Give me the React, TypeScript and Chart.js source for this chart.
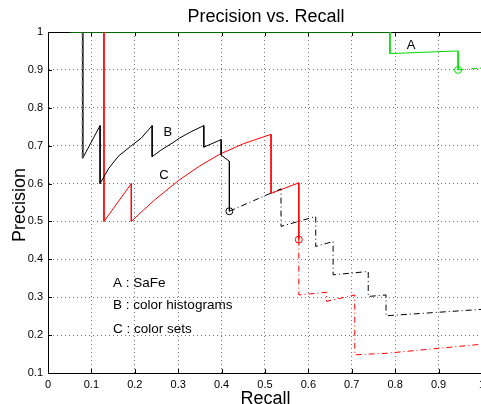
import React, { useEffect, useRef } from "react";
import { Chart, registerables } from "chart.js";

Chart.register(...registerables);

// ---- tick values ----
const xTickValues = [0, 0.1, 0.2, 0.3, 0.4, 0.5, 0.6, 0.7, 0.8, 0.9, 1];
const yTickValues = [0.1, 0.2, 0.3, 0.4, 0.5, 0.6, 0.7, 0.8, 0.9, 1];

// ---- A : SaFe (green) ----
const aSolidRecall = [0.052, 0.788, 0.788, 0.945, 0.945];
const aSolidPrecision = [1, 1, 0.943, 0.95, 0.9];
const aDashRecall = [0.945, 1];
const aDashPrecision = [0.9, 0.905];

// ---- B : color histograms (black) ----
const bSolidRecall = [0.08, 0.08, 0.12, 0.12, 0.14, 0.162, 0.19, 0.215, 0.24, 0.24, 0.26, 0.288, 0.303, 0.33, 0.359, 0.359, 0.399, 0.399, 0.418, 0.418];
const bSolidPrecision = [1, 0.667, 0.753, 0.6, 0.64, 0.672, 0.698, 0.72, 0.753, 0.671, 0.688, 0.708, 0.72, 0.737, 0.753, 0.696, 0.716, 0.675, 0.659, 0.527];
const bDashRecall = [0.418, 0.514, 0.537, 0.537, 0.617, 0.617, 0.657, 0.657, 0.738, 0.738, 0.779, 0.779, 1];
const bDashPrecision = [0.527, 0.575, 0.586, 0.487, 0.513, 0.434, 0.447, 0.359, 0.368, 0.302, 0.306, 0.251, 0.268];
const bStartRecall = [0.08, 0.08];
const bStartPrecision = [1, 0.667];

// ---- C : color sets (red) ----
const cSolidRecall = [0.129, 0.129, 0.192, 0.192, 0.22, 0.246, 0.303, 0.349, 0.395, 0.45, 0.514, 0.514, 0.578, 0.578];
const cSolidPrecision = [1, 0.5, 0.6, 0.5, 0.53, 0.557, 0.61, 0.646, 0.677, 0.705, 0.73, 0.574, 0.602, 0.452];
const cDashRecall = [0.578, 0.578, 0.642, 0.642, 0.707, 0.707, 0.779, 1];
const cDashPrecision = [0.452, 0.306, 0.313, 0.289, 0.306, 0.148, 0.152, 0.176];

// ---- markers (end of solid part) ----
const markerRecall = [0.945, 0.418, 0.578];
const markerPrecision = [0.9, 0.527, 0.452];
const markerColors = ["#00dd00", "#000000", "#ff0000"];

// ---- text labels in data coordinates ----
const curveLabels = ["A", "B", "C"];
const curveLabelRecall = [0.837, 0.276, 0.267];
const curveLabelPrecision = [0.964, 0.734, 0.621];
const legendTexts = ["A : SaFe", "B : color histograms", "C : color sets"];
const legendRecall = [0.15, 0.15, 0.15];
const legendPrecision = [0.338, 0.28, 0.216];

const titleText = "Precision vs. Recall";
const xTitle = "Recall";
const yTitle = "Precision";

const FONT = '"Liberation Sans", Arial, Helvetica, sans-serif';
const DASHDOT = [6, 3, 1, 3];

const zip = (xs: number[], ys: number[]) => xs.map((x, i) => ({ x, y: ys[i] }));
const fmt = (v: number) => String(Number(v.toFixed(1)));

function lineDs(xs: number[], ys: number[], color: string, dash: number[] = [], width = 1) {
  return {
    data: zip(xs, ys),
    borderColor: color,
    backgroundColor: color,
    borderWidth: width,
    borderDash: dash,
    showLine: true,
    pointRadius: 0,
    fill: false,
    tension: 0,
  };
}

const overlay = {
  id: "overlay",
  beforeDatasetsDraw(chart: any) {
    const { ctx, chartArea, scales } = chart;
    const { left, right, top, bottom } = chartArea;
    ctx.save();
    ctx.strokeStyle = "#000";
    ctx.lineWidth = 1;
    ctx.setLineDash([]);
    ctx.beginPath();
    const t = Math.round(top) + 0.5;
    ctx.moveTo(left, t);
    ctx.lineTo(right, t);
    // inward ticks
    xTickValues.forEach((v) => {
      const px = Math.round(scales.x.getPixelForValue(v)) + 0.5;
      ctx.moveTo(px, bottom);
      ctx.lineTo(px, bottom - 4);
      ctx.moveTo(px, top);
      ctx.lineTo(px, top + 4);
    });
    yTickValues.forEach((v) => {
      const py = Math.round(scales.y.getPixelForValue(v)) + 0.5;
      ctx.moveTo(left, py);
      ctx.lineTo(left + 4, py);
    });
    ctx.stroke();
    ctx.restore();
  },
  afterDraw(chart: any) {
    const { ctx, scales } = chart;
    ctx.save();
    ctx.fillStyle = "#000";
    // title
    ctx.font = `18px ${FONT}`;
    ctx.textAlign = "center";
    ctx.textBaseline = "alphabetic";
    ctx.fillText(titleText, 266, 21.5);
    // x title
    ctx.fillText(xTitle, 265.5, 404);
    // y title
    ctx.save();
    ctx.translate(25, 205);
    ctx.rotate(-Math.PI / 2);
    ctx.fillText(yTitle, 0, 0);
    ctx.restore();
    // curve labels
    ctx.font = `13px ${FONT}`;
    ctx.textBaseline = "middle";
    ctx.textAlign = "center";
    curveLabels.forEach((s, i) => {
      ctx.fillText(s, scales.x.getPixelForValue(curveLabelRecall[i]), scales.y.getPixelForValue(curveLabelPrecision[i]));
    });
    // legend texts
    ctx.font = `13.5px ${FONT}`;
    ctx.textAlign = "left";
    legendTexts.forEach((s, i) => {
      ctx.fillText(s, scales.x.getPixelForValue(legendRecall[i]), scales.y.getPixelForValue(legendPrecision[i]));
    });
    ctx.restore();
  },
};

export default function App() {
  const ref = useRef<HTMLCanvasElement | null>(null);

  useEffect(() => {
    document.body.style.margin = "0";
    const canvas = ref.current;
    if (!canvas) return;
    Chart.defaults.font.family = FONT;
    const datasets: any[] = [
      lineDs(bStartRecall, bStartPrecision, "#555555", [6, 2], 2),
      lineDs(bSolidRecall, bSolidPrecision, "#000000"),
      lineDs(bDashRecall, bDashPrecision, "#000000", DASHDOT),
      lineDs(cSolidRecall, cSolidPrecision, "#ff0000"),
      lineDs(cDashRecall, cDashPrecision, "#ff0000", DASHDOT),
      lineDs(aSolidRecall, aSolidPrecision, "#00dd00"),
      lineDs(aDashRecall, aDashPrecision, "#00dd00", DASHDOT),
      {
        data: zip(markerRecall, markerPrecision),
        showLine: false,
        pointRadius: 3.5,
        pointStyle: "circle",
        pointBackgroundColor: "rgba(0,0,0,0)",
        pointBorderColor: markerColors,
        pointBorderWidth: 1,
      },
    ];
    const chart = new Chart(canvas, {
      type: "line",
      data: { datasets },
      options: {
        responsive: false,
        animation: false,
        devicePixelRatio: 1,
        layout: { padding: { top: 32, right: 7, left: 0, bottom: 0 } },
        plugins: {
          legend: { display: false },
          tooltip: { enabled: false },
          title: { display: false },
        },
        scales: {
          x: {
            type: "linear",
            min: 0,
            max: 1,
            afterFit: (s: any) => {
              s.height = 31;
            },
            afterBuildTicks: (s: any) => {
              s.ticks = xTickValues.map((v) => ({ value: v }));
            },
            ticks: {
              padding: 5,
              color: "#000",
              font: { size: 11, family: FONT },
              maxRotation: 0,
              autoSkip: false,
              callback: (v: any) => fmt(Number(v)),
            },
            grid: { color: "rgba(0,0,0,0.55)", drawTicks: false, lineWidth: 1 },
            border: { color: "#000", width: 1, dash: [1, 3] },
          },
          y: {
            type: "linear",
            min: 0.1,
            max: 1,
            afterFit: (s: any) => {
              s.width = 48;
            },
            afterBuildTicks: (s: any) => {
              s.ticks = yTickValues.map((v) => ({ value: v }));
            },
            ticks: {
              padding: 5,
              color: "#000",
              font: { size: 11, family: FONT },
              autoSkip: false,
              callback: (v: any) => fmt(Number(v)),
            },
            grid: { color: "rgba(0,0,0,0.55)", drawTicks: false, lineWidth: 1 },
            border: { color: "#000", width: 1, dash: [1, 3] },
          },
        },
      } as any,
      plugins: [overlay],
    });
    return () => chart.destroy();
  }, []);

  return (
    <div style={{ width: 481, height: 404, overflow: "hidden", position: "relative", background: "#fff" }}>
      <canvas ref={ref} width={490} height={404} style={{ width: 490, height: 404, display: "block" }} />
    </div>
  );
}
